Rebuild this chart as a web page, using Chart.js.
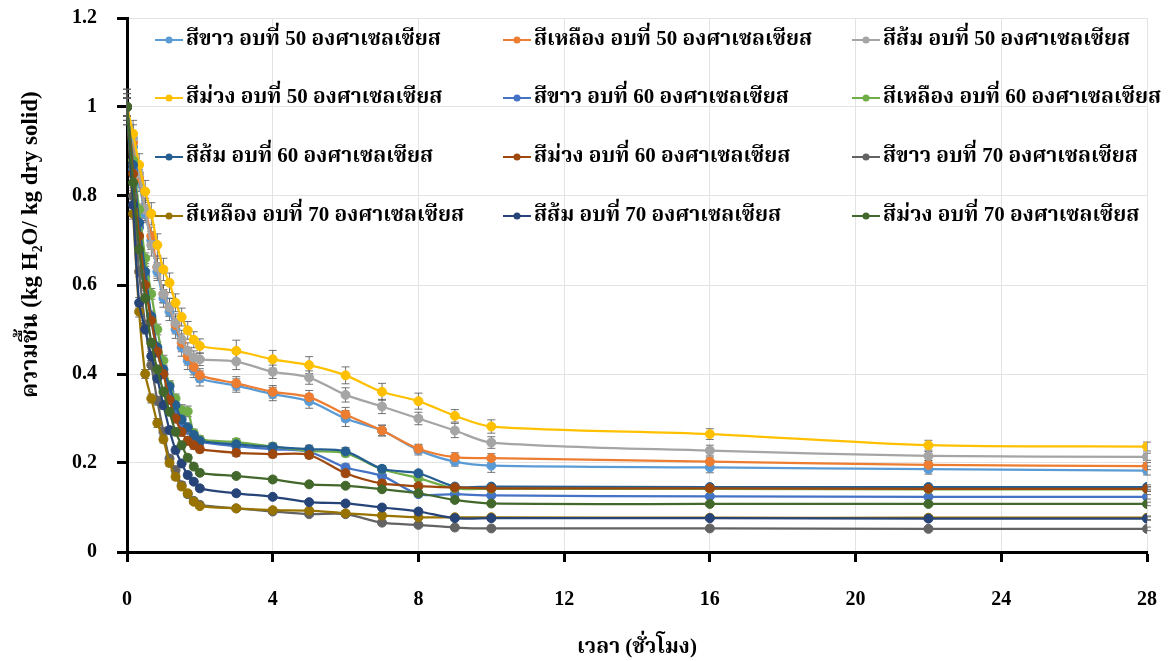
<!DOCTYPE html>
<html><head><meta charset="utf-8">
<script src="https://cdn.jsdelivr.net/npm/chart.js@4.4.1/dist/chart.umd.min.js"></script>
<style>html,body{margin:0;padding:0;background:#fff;}#wrap{width:1168px;height:661px;}</style>
</head><body><div id="wrap"><canvas id="c" width="1168" height="661"></canvas></div>
<script>
// ---- data ----
const timeHours = [0, 0.167, 0.333, 0.5, 0.667, 0.833, 1, 1.167, 1.333, 1.5, 1.667, 1.833, 2, 3, 4, 5, 6, 7, 8, 9, 10, 16, 22, 28];
const seriesNames = [
  'สีขาว อบที่ 50 องศาเซลเซียส', 'สีเหลือง อบที่ 50 องศาเซลเซียส', 'สีส้ม อบที่ 50 องศาเซลเซียส',
  'สีม่วง อบที่ 50 องศาเซลเซียส', 'สีขาว อบที่ 60 องศาเซลเซียส', 'สีเหลือง อบที่ 60 องศาเซลเซียส',
  'สีส้ม อบที่ 60 องศาเซลเซียส', 'สีม่วง อบที่ 60 องศาเซลเซียส', 'สีขาว อบที่ 70 องศาเซลเซียส',
  'สีเหลือง อบที่ 70 องศาเซลเซียส', 'สีส้ม อบที่ 70 องศาเซลเซียส', 'สีม่วง อบที่ 70 องศาเซลเซียส'
];
const white50  = [1.0, 0.91, 0.83, 0.76, 0.70, 0.63, 0.57, 0.54, 0.50, 0.46, 0.43, 0.41, 0.39, 0.374, 0.355, 0.339, 0.300, 0.273, 0.229, 0.203, 0.194, 0.190, 0.186, 0.183];
const yellow50 = [1.0, 0.92, 0.84, 0.77, 0.71, 0.64, 0.58, 0.55, 0.51, 0.47, 0.44, 0.416, 0.397, 0.379, 0.360, 0.348, 0.309, 0.273, 0.232, 0.213, 0.211, 0.203, 0.196, 0.193];
const orange50 = [1.0, 0.93, 0.85, 0.77, 0.69, 0.64, 0.58, 0.55, 0.515, 0.478, 0.452, 0.437, 0.433, 0.428, 0.405, 0.392, 0.353, 0.327, 0.300, 0.273, 0.246, 0.228, 0.216, 0.214];
const purple50 = [1.0, 0.94, 0.87, 0.81, 0.76, 0.69, 0.635, 0.605, 0.56, 0.528, 0.498, 0.477, 0.463, 0.452, 0.433, 0.420, 0.397, 0.360, 0.339, 0.306, 0.282, 0.265, 0.240, 0.237];
const white60  = [1.0, 0.86, 0.73, 0.62, 0.52, 0.45, 0.40, 0.36, 0.32, 0.29, 0.275, 0.26, 0.248, 0.238, 0.231, 0.225, 0.190, 0.171, 0.130, 0.130, 0.127, 0.125, 0.124, 0.124];
const yellow60 = [1.0, 0.88, 0.77, 0.66, 0.58, 0.50, 0.43, 0.375, 0.345, 0.319, 0.316, 0.267, 0.253, 0.247, 0.237, 0.227, 0.222, 0.186, 0.166, 0.143, 0.142, 0.142, 0.141, 0.141];
const orange60 = [1.0, 0.87, 0.74, 0.63, 0.53, 0.46, 0.41, 0.372, 0.33, 0.298, 0.280, 0.263, 0.250, 0.242, 0.236, 0.231, 0.226, 0.187, 0.177, 0.147, 0.147, 0.146, 0.146, 0.146];
const purple60 = [1.0, 0.85, 0.71, 0.60, 0.52, 0.45, 0.40, 0.342, 0.30, 0.27, 0.25, 0.240, 0.231, 0.223, 0.220, 0.218, 0.177, 0.154, 0.148, 0.145, 0.143, 0.143, 0.142, 0.142];
const white70  = [1.0, 0.80, 0.63, 0.51, 0.42, 0.34, 0.27, 0.21, 0.184, 0.15, 0.13, 0.115, 0.106, 0.098, 0.091, 0.085, 0.085, 0.066, 0.061, 0.055, 0.053, 0.053, 0.052, 0.052];
const yellow70 = [1.0, 0.76, 0.54, 0.40, 0.345, 0.29, 0.253, 0.20, 0.169, 0.147, 0.132, 0.113, 0.103, 0.098, 0.094, 0.093, 0.087, 0.082, 0.078, 0.078, 0.078, 0.077, 0.077, 0.077];
const orange70 = [1.0, 0.78, 0.56, 0.50, 0.44, 0.39, 0.33, 0.274, 0.229, 0.199, 0.173, 0.158, 0.143, 0.132, 0.124, 0.112, 0.109, 0.100, 0.091, 0.076, 0.076, 0.076, 0.075, 0.075];
const purple70 = [1.0, 0.83, 0.68, 0.57, 0.47, 0.41, 0.36, 0.315, 0.270, 0.240, 0.212, 0.192, 0.178, 0.171, 0.163, 0.152, 0.149, 0.141, 0.132, 0.117, 0.109, 0.108, 0.108, 0.108];
// error bar half-lengths
const errWhite50  = [0.03, 0.02, 0.02, 0.02, 0.02, 0.02, 0.02, 0.02, 0.02, 0.02, 0.02, 0.018, 0.017, 0.015, 0.015, 0.016, 0.018, 0.012, 0.011, 0.010, 0.015, 0.012, 0.011, 0.010];
const errYellow50 = [0.03, 0.02, 0.02, 0.02, 0.02, 0.02, 0.02, 0.02, 0.02, 0.02, 0.02, 0.018, 0.015, 0.015, 0.014, 0.015, 0.016, 0.012, 0.010, 0.010, 0.010, 0.010, 0.010, 0.008];
const errOrange50 = [0.04, 0.03, 0.025, 0.025, 0.025, 0.025, 0.02, 0.02, 0.02, 0.02, 0.018, 0.015, 0.014, 0.018, 0.015, 0.015, 0.016, 0.016, 0.014, 0.016, 0.013, 0.012, 0.010, 0.008];
const errPurple50 = [0.04, 0.03, 0.025, 0.025, 0.025, 0.025, 0.025, 0.022, 0.02, 0.02, 0.02, 0.018, 0.016, 0.024, 0.020, 0.019, 0.019, 0.019, 0.018, 0.014, 0.015, 0.012, 0.011, 0.010];
const errWhite60  = [0.02, 0.015, 0.012, 0.012, 0.012, 0.012, 0.010, 0.010, 0.010, 0.010, 0.010, 0.009, 0.008, 0.008, 0.008, 0.008, 0.008, 0.007, 0.006, 0.005, 0.005, 0.005, 0.005, 0.005];
const errYellow60 = [0.02, 0.015, 0.012, 0.012, 0.012, 0.012, 0.012, 0.010, 0.010, 0.012, 0.012, 0.009, 0.008, 0.008, 0.008, 0.008, 0.008, 0.007, 0.006, 0.005, 0.005, 0.005, 0.005, 0.005];
const errOrange60 = [0.02, 0.015, 0.012, 0.012, 0.012, 0.012, 0.010, 0.010, 0.010, 0.010, 0.010, 0.009, 0.008, 0.008, 0.008, 0.009, 0.009, 0.007, 0.006, 0.005, 0.005, 0.005, 0.005, 0.005];
const errPurple60 = [0.02, 0.015, 0.012, 0.012, 0.012, 0.010, 0.010, 0.010, 0.010, 0.010, 0.010, 0.009, 0.008, 0.008, 0.008, 0.008, 0.008, 0.007, 0.006, 0.005, 0.005, 0.005, 0.005, 0.005];
const errWhite70  = [0.02, 0.012, 0.012, 0.010, 0.010, 0.010, 0.010, 0.008, 0.008, 0.008, 0.007, 0.006, 0.006, 0.005, 0.005, 0.005, 0.005, 0.005, 0.004, 0.004, 0.004, 0.004, 0.004, 0.004];
const errYellow70 = [0.02, 0.012, 0.012, 0.010, 0.010, 0.010, 0.008, 0.008, 0.007, 0.007, 0.006, 0.006, 0.005, 0.005, 0.005, 0.005, 0.005, 0.004, 0.004, 0.004, 0.004, 0.004, 0.004, 0.004];
const errOrange70 = [0.02, 0.012, 0.012, 0.010, 0.010, 0.010, 0.010, 0.008, 0.008, 0.007, 0.007, 0.006, 0.006, 0.006, 0.005, 0.005, 0.005, 0.005, 0.004, 0.004, 0.004, 0.004, 0.004, 0.004];
const errPurple70 = [0.02, 0.012, 0.012, 0.010, 0.010, 0.010, 0.010, 0.008, 0.008, 0.008, 0.007, 0.007, 0.006, 0.006, 0.006, 0.005, 0.005, 0.005, 0.005, 0.004, 0.004, 0.004, 0.004, 0.004];
const xTicks = [0, 4, 8, 12, 16, 20, 24, 28];
const yTicks = [0, 0.2, 0.4, 0.6, 0.8, 1, 1.2];
const xTitle = 'เวลา (ชั่วโมง)';
const yTitle = 'ความชื้น (kg H\u2082O/ kg dry solid)';

// ---- styling ----
const seriesValues = [white50, yellow50, orange50, purple50, white60, yellow60, orange60, purple60, white70, yellow70, orange70, purple70];
const seriesErrors = [errWhite50, errYellow50, errOrange50, errPurple50, errWhite60, errYellow60, errOrange60, errPurple60, errWhite70, errYellow70, errOrange70, errPurple70];
const seriesColors = ['#5B9BD5', '#ED7D31', '#A5A5A5', '#FFC000', '#4472C4', '#70AD47', '#255E91', '#9E480E', '#636363', '#997300', '#264478', '#43682B'];
const FONT = "'Liberation Serif', 'Times New Roman', 'Noto Serif Thai', 'Noto Sans Thai', 'Garuda', 'Loma', serif";
// leading spaces shift the centred axis title upward like the reference
const yTitleShift = '\u00A0'.repeat(14);

const datasets = seriesValues.map((vals, i) => ({
  label: seriesNames[i],
  data: vals.map((v, j) => ({ x: timeHours[j], y: v })),
  errors: seriesErrors[i],
  borderColor: seriesColors[i],
  backgroundColor: seriesColors[i],
  pointBackgroundColor: seriesColors[i],
  pointBorderColor: seriesColors[i],
  pointRadius: 4.5,
  pointBorderWidth: 1,
  borderWidth: 2.25,
  tension: 0.3,
  order: -i
}));

const errorBarPlugin = {
  id: 'errorBars',
  beforeDatasetsDraw(chart) {
    const ctx = chart.ctx, ys = chart.scales.y, xs = chart.scales.x;
    ctx.save();
    ctx.strokeStyle = 'rgba(90,90,90,0.85)';
    ctx.lineWidth = 1;
    chart.data.datasets.forEach(ds => {
      ds.data.forEach((p, j) => {
        const e = ds.errors[j];
        const px = xs.getPixelForValue(p.x);
        const y1 = ys.getPixelForValue(p.y + e), y2 = ys.getPixelForValue(p.y - e);
        ctx.beginPath();
        ctx.moveTo(px, y1); ctx.lineTo(px, y2);
        ctx.moveTo(px - 4, y1); ctx.lineTo(px + 4, y1);
        ctx.moveTo(px - 4, y2); ctx.lineTo(px + 4, y2);
        ctx.stroke();
      });
    });
    ctx.restore();
  }
};

const legendPlugin = {
  id: 'insideLegend',
  afterDraw(chart) {
    const ctx = chart.ctx, a = chart.chartArea;
    const colOffsets = [28, 376, 725];
    const rowOffsets = [22, 80, 139, 198];
    ctx.save();
    ctx.font = 'bold 21px ' + FONT;
    ctx.textBaseline = 'middle';
    ctx.textAlign = 'left';
    chart.data.datasets.forEach((ds, i) => {
      const x = a.left + colOffsets[i % 3];
      const y = a.top + rowOffsets[Math.floor(i / 3)];
      ctx.strokeStyle = ds.borderColor; ctx.lineWidth = 2;
      ctx.beginPath(); ctx.moveTo(x, y); ctx.lineTo(x + 28, y); ctx.stroke();
      ctx.fillStyle = ds.borderColor;
      ctx.beginPath(); ctx.arc(x + 14, y, 3.5, 0, Math.PI * 2); ctx.fill();
      ctx.fillStyle = '#000';
      ctx.fillText(ds.label, x + 31, y);
    });
    ctx.restore();
  }
};

new Chart(document.getElementById('c'), {
  type: 'line',
  data: { datasets },
  options: {
    responsive: false,
    animation: false,
    devicePixelRatio: 1,
    layout: { padding: { top: 18, right: 21, left: 0, bottom: 0 } },
    plugins: { legend: { display: false }, tooltip: { enabled: false } },
    scales: {
      x: {
        type: 'linear', min: 0, max: 28,
        afterFit: s => { s.height = 109; s.paddingLeft = 0; s.paddingRight = 0; },
        afterBuildTicks: s => { s.ticks = xTicks.map(v => ({ value: v })); },
        border: { display: true, color: '#000', width: 3 },
        grid: { color: '#E3E3E3', lineWidth: 1, drawTicks: true, tickLength: 10, tickColor: '#000', tickWidth: 3 },
        ticks: { color: '#000', padding: 26, callback: v => String(v), font: { family: FONT, size: 20, weight: 'bold' } },
        title: { display: true, text: xTitle, color: '#000', padding: { top: 0, bottom: 1 }, font: { family: FONT, size: 21, weight: 'bold' } }
      },
      y: {
        min: 0, max: 1.2,
        afterFit: s => { s.width = 127; s.paddingTop = 0; s.paddingBottom = 0; },
        afterBuildTicks: s => { s.ticks = yTicks.map(v => ({ value: v })); },
        border: { display: true, color: '#000', width: 3 },
        grid: { color: '#E3E3E3', lineWidth: 1, drawTicks: true, tickLength: 10, tickColor: '#000', tickWidth: 3 },
        ticks: { color: '#000', padding: 20, callback: v => String(v), font: { family: FONT, size: 20, weight: 'bold' } },
        title: { display: true, text: yTitleShift + yTitle, color: '#000', padding: { top: 17, bottom: 0 }, font: { family: FONT, size: 23, weight: 'bold' } }
      }
    }
  },
  plugins: [errorBarPlugin, legendPlugin]
});
</script>
</body></html>
